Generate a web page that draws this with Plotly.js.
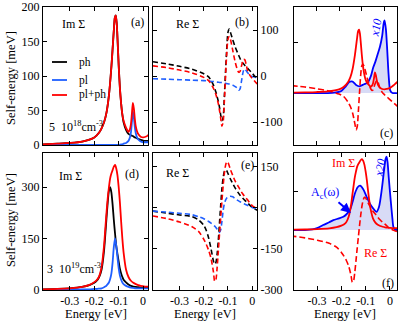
<!DOCTYPE html>
<html><head><meta charset="utf-8">
<script src="https://cdn.plot.ly/plotly-3.0.1.min.js"></script>
<style>html,body{margin:0;padding:0;background:#fff}</style>
</head><body><div id="chart" style="width:399px;height:321px"></div>
<script>
// ---- top row (5e18 cm^-3) ----
const xA = [-0.41,-0.35,-0.3,-0.25,-0.2,-0.18,-0.16,-0.15,-0.14,-0.13,-0.125,-0.12,-0.116,-0.112,-0.108,-0.104,-0.1,-0.095,-0.09,-0.085,-0.08,-0.07,-0.06,-0.055,-0.05,-0.046,-0.042,-0.038,-0.034,-0.03,-0.025,-0.02,-0.01,0,0.01,0.02,0.03,0.04,0.05,0.06];
const imPhA = [1,2,3,5,11,18,33,47,72,113,139,166,184,188,176,147,115,82,60,44,33,22,16,15,14,13.5,13,12,11,10.5,9.5,9,7.5,6.5,6,6,6,6,6,6];
const imPlA = [0,0,0,0,0,0,0,0,0,0,0,0,0,0,0,0,0,0.5,1,1,2,3,6,10,18,33,49,40,26,17,11,8,5,4,4,4,4,4,4,4];
const imPlPhA = [1,2,3,5,11,18,33,47,72,113,139,166,184,188,176,147,115,82,60,44,35,25,19,22,30,45,61,53,38,27,20,16,12,11,12,14,18,23,29,35];

const xB = [-0.41,-0.35,-0.3,-0.25,-0.2,-0.18,-0.16,-0.15,-0.14,-0.135,-0.13,-0.125,-0.12,-0.115,-0.11,-0.105,-0.1,-0.095,-0.09,-0.08,-0.07,-0.06,-0.055,-0.05,-0.045,-0.04,-0.035,-0.03,-0.025,-0.02,-0.01,0,0.01,0.02,0.03,0.04,0.05,0.06];
const rePhB = [31,26,21,15,5,-2,-20,-35,-55,-68,-85,-97,-90,-45,10,60,95,102,95,78,63,50,44,38,33,29,26,23,20,17,12,6,0,-6,-11,-16,-20,-24];
const rePlB = [-6,-7,-8,-9,-10,-11,-12,-13,-13.5,-14,-14,-14.5,-15,-15.5,-16,-16.5,-17,-17.5,-18,-20,-23,-27,-31,-28,-14,2,13,15,12,8,2,-1,-2,-3,-4,-5,-6,-6];
const rePlPhB = [22,18,13,7,-3,-10,-27,-40,-60,-75,-92,-109,-100,-55,0,50,80,86,80,55,30,12,8,10,20,30,36,35,25,14,2,-5,-11,-17,-23,-29,-35,-41];

const xC = [-0.4,-0.3,-0.25,-0.22,-0.19,-0.17,-0.155,-0.14,-0.125,-0.11,-0.09,-0.075,-0.06,-0.05,-0.04,-0.03,-0.02,-0.01,-0.004,0,0.006,0.012,0.018,0.025,0.035,0.055];
const acC = [0,0,0,1,6,20,33,34,24,20,26,30,50,75,93,115,137,170,205,215,190,128,55,8,0,0];

// ---- bottom row (3e19 cm^-3) ----
const xD = [-0.41,-0.35,-0.3,-0.25,-0.22,-0.2,-0.19,-0.18,-0.17,-0.16,-0.155,-0.15,-0.145,-0.14,-0.135,-0.13,-0.125,-0.12,-0.115,-0.11,-0.105,-0.1,-0.095,-0.09,-0.085,-0.08,-0.07,-0.06,-0.05,-0.04,-0.03,-0.02,-0.01,0,0.01,0.02,0.03];
const imPhD = [2,3,5,9,14,21,27,38,60,115,160,210,255,290,300,285,250,205,165,128,105,83,62,48,38,30,22,16,12,10,9,8,7,6,6,6,6];
const imPlD = [0,1,1,2,2,3,3,4,5,8,10,13,17,22,32,48,80,125,151,130,95,63,42,30,22,17,12,9,7,6,5,5,5,5,5,5,5];
const imPlPhD = [2,3,5,9,15,23,29,40,68,130,178,225,268,300,326,340,350,360,365,355,335,300,255,200,150,110,60,38,27,21,17,14,12,11,10,10,10];

const xE = [-0.41,-0.35,-0.3,-0.25,-0.22,-0.2,-0.19,-0.18,-0.17,-0.16,-0.155,-0.15,-0.145,-0.14,-0.135,-0.13,-0.125,-0.12,-0.115,-0.11,-0.105,-0.1,-0.09,-0.08,-0.07,-0.06,-0.05,-0.04,-0.03,-0.02,-0.01,0,0.01,0.02,0.03];
const rePhE = [-12,-20,-26,-32,-45,-64,-82,-110,-150,-195,-206,-200,-170,-120,-55,10,70,110,132,139,135,125,105,88,72,58,46,36,27,19,10,2,-4,-8,-12];
const rePlE = [-12,-16,-20,-25,-33,-40,-45,-50,-56,-63,-67,-72,-78,-85,-90,-80,-50,-10,15,28,36,40,42,40,33,27,22,17,13,9,5,1,-1,-3,-5];
const rePlPhE = [-30,-40,-52,-68,-88,-115,-133,-155,-185,-235,-268,-262,-220,-160,-95,-35,25,80,125,155,168,165,140,118,97,82,66,52,40,30,18,8,2,-3,-9];

const xF = [-0.4,-0.35,-0.32,-0.3,-0.275,-0.25,-0.233,-0.21,-0.192,-0.18,-0.165,-0.155,-0.144,-0.133,-0.123,-0.11,-0.096,-0.08,-0.069,-0.062,-0.055,-0.045,-0.034,-0.025,-0.018,-0.014,-0.01,-0.005,0.003,0.01,0.014,0.02,0.03];
const acF = [0,0,3,10,26,40,51,60,68,80,103,140,189,220,228,210,171,130,111,100,94,120,206,300,365,377,350,270,154,60,17,3,0];

const xTicks = [-0.3,-0.2,-0.1,0];
const xTickText = ['-0.3','-0.2','-0.1','0'];
const yTicksA = [0,50,100,150,200];
const yTicksB = [-100,0,100];
const yTicksD = [0,150,300];
const yTicksE = [-300,-150,0,150];
const legendNames = ['ph','pl','pl+ph'];

const W = 399, H = 321;
const px = v => v / W, py = v => 1 - v / H;
const BLACK = '#000000', BLUE = '#1f5fff', RED = '#ff0000', DBLUE = '#0000ff';
const FONT = 'Liberation Serif';

function ln(x, y, ax, color, dash, w) {
  return {x: x, y: y, xaxis: 'x' + ax, yaxis: 'y' + ax, type: 'scatter', mode: 'lines',
    line: {color: color, width: w || 1.8, dash: dash || 'solid', shape: 'spline', smoothing: 0.7},
    showlegend: false, hoverinfo: 'skip'};
}
const traces = [
  ln(xA, imPhA, '', BLACK), ln(xA, imPlA, '', BLUE), ln(xA, imPlPhA, '', RED),
  ln(xB, rePhB, '2', BLACK, '5px,3px', 1.6), ln(xB, rePlB, '2', BLUE, '5px,3px', 1.6), ln(xB, rePlPhB, '2', RED, '5px,3px', 1.6),
  Object.assign(ln(xC, acC, '3', DBLUE), {fill: 'tozeroy', fillcolor: 'rgb(216,219,246)'}),
  ln(xA, imPlPhA, '3', RED), ln(xB, rePlPhB, '3', RED, '6px,3px', 1.6),
  ln(xD, imPhD, '4', BLACK), ln(xD, imPlD, '4', BLUE), ln(xD, imPlPhD, '4', RED),
  ln(xE, rePhE, '5', BLACK, '5px,3px', 1.6), ln(xE, rePlE, '5', BLUE, '5px,3px', 1.6), ln(xE, rePlPhE, '5', RED, '5px,3px', 1.6),
  Object.assign(ln(xF, acF, '6', DBLUE), {fill: 'tozeroy', fillcolor: 'rgb(216,219,246)'}),
  ln(xD, imPlPhD, '6', RED), ln(xE, rePlPhE, '6', RED, '6px,3px', 1.6)
];

const colDom = [[43/W, 148/W], [153/W, 257/W], [294/W, 397/W]];
const rowDom = [[py(145), py(7)], [py(290), py(153)]];
const hy = a => a.map(v => String(v).replace('\u2212', '-'));
function xax(i, row, range, labels) {
  const n = row*3+i+1;
  return {domain: colDom[i], anchor: 'y' + (n === 1 ? '' : n), range: range,
    tickvals: xTicks, ticktext: xTickText, showticklabels: labels, ticks: 'inside', ticklen: 4,
    tickcolor: BLACK, showline: true, linecolor: BLACK, linewidth: 1, mirror: 'ticks',
    showgrid: false, zeroline: false, fixedrange: true,
    tickfont: {family: FONT, size: 12, color: BLACK}};
}
function yax(i, row, range, tv, labels, side) {
  const n = row*3+i+1;
  return {domain: rowDom[row], anchor: 'x' + (n === 1 ? '' : n), range: range, side: side || 'left',
    tickvals: tv, ticktext: hy(tv), showticklabels: labels, ticks: 'inside', ticklen: 4, tickcolor: BLACK,
    showline: true, linecolor: BLACK, linewidth: 1, mirror: 'ticks', showgrid: false, zeroline: false,
    fixedrange: true, tickfont: {family: FONT, size: 12, color: BLACK}};
}

function ann(text, x, y, opts) {
  return Object.assign({text: text, x: px(x), y: py(y), xref: 'paper', yref: 'paper', showarrow: false,
    xanchor: 'center', yanchor: 'middle', font: {family: FONT, size: 12, color: BLACK}}, opts || {});
}
const TF = {family: FONT, size: 12.5, color: BLACK};
const annotations = [
  ann('Self-energy [meV]', 11, 78, {textangle: -90, font: TF}),
  ann('Self-energy [meV]', 11, 220, {textangle: -90, font: TF}),
  ann('Energy [eV]', 96, 314, {font: TF}),
  ann('Energy [eV]', 205, 314, {font: TF}),
  ann('Energy [eV]', 345, 314, {font: TF}),
  ann('Im Σ', 73, 24), ann('(a)', 137, 22),
  ann('Re Σ', 187, 24), ann('(b)', 242, 22),
  ann('<i>x10</i>', 376, 28, {textangle: -80, font: {family: FONT, size: 12, color: DBLUE}}),
  ann('(c)', 386, 133),
  ann('Im Σ', 70, 176), ann('(d)', 132, 174),
  ann('Re Σ', 177, 173), ann('(e)', 247, 165),
  ann('Im Σ', 343, 163, {font: {family: FONT, size: 12, color: RED}}),
  ann('<i>x20</i>', 380, 168, {textangle: -80, font: {family: FONT, size: 12, color: DBLUE}}),
  ann('A<sub>c</sub>(ω)', 325, 193, {font: {family: FONT, size: 12, color: DBLUE}}),
  ann('Re Σ', 375, 253, {font: {family: FONT, size: 12, color: RED}}),
  ann('(f)', 388, 283),
  ann('5  10<sup>18</sup>cm<sup>-3</sup>', 47, 127, {xanchor: 'left'}),
  ann('3  10<sup>19</sup>cm<sup>-3</sup>', 45, 268, {xanchor: 'left'}),
  {x: px(351), y: py(213), ax: -14, ay: -12, xref: 'paper', yref: 'paper', axref: 'pixel', ayref: 'pixel',
   text: '', showarrow: true, arrowhead: 2, arrowsize: 1, arrowwidth: 2, arrowcolor: DBLUE}
];
const legColors = [BLACK, BLUE, RED];
const legY = [62, 80, 95];
const shapes = [];
legendNames.forEach((name, i) => {
  shapes.push({type: 'line', xref: 'paper', yref: 'paper', x0: px(52), x1: px(67), y0: py(legY[i]), y1: py(legY[i]),
    line: {color: legColors[i], width: 1.8}});
  annotations.push(ann(name, 77, legY[i], {xanchor: 'left', font: {family: FONT, size: 11.5, color: BLACK}}));
});

const layout = {
  width: W, height: H, margin: {l: 0, r: 0, t: 0, b: 0},
  paper_bgcolor: '#fff', plot_bgcolor: '#fff', showlegend: false,
  xaxis: xax(0, 0, [-0.41, 0.02], false),
  xaxis2: xax(1, 0, [-0.41, 0.02], false),
  xaxis3: xax(2, 0, [-0.398, 0.055], false),
  xaxis4: xax(0, 1, [-0.41, 0.02], true),
  xaxis5: xax(1, 1, [-0.41, 0.02], true),
  xaxis6: xax(2, 1, [-0.395, 0.029], true),
  yaxis: yax(0, 0, [0, 200], yTicksA, true),
  yaxis2: yax(1, 0, [-150, 150], yTicksB, true, 'right'),
  yaxis3: yax(2, 0, [-154, 255], [150], false),
  yaxis4: yax(0, 1, [0, 400], yTicksD, true),
  yaxis5: yax(1, 1, [-300, 200], yTicksE, true, 'right'),
  yaxis6: yax(2, 1, [-308, 396], [200], false),
  annotations: annotations, shapes: shapes
};
Plotly.newPlot('chart', traces, layout, {displayModeBar: false, staticPlot: true});
</script></body></html>
